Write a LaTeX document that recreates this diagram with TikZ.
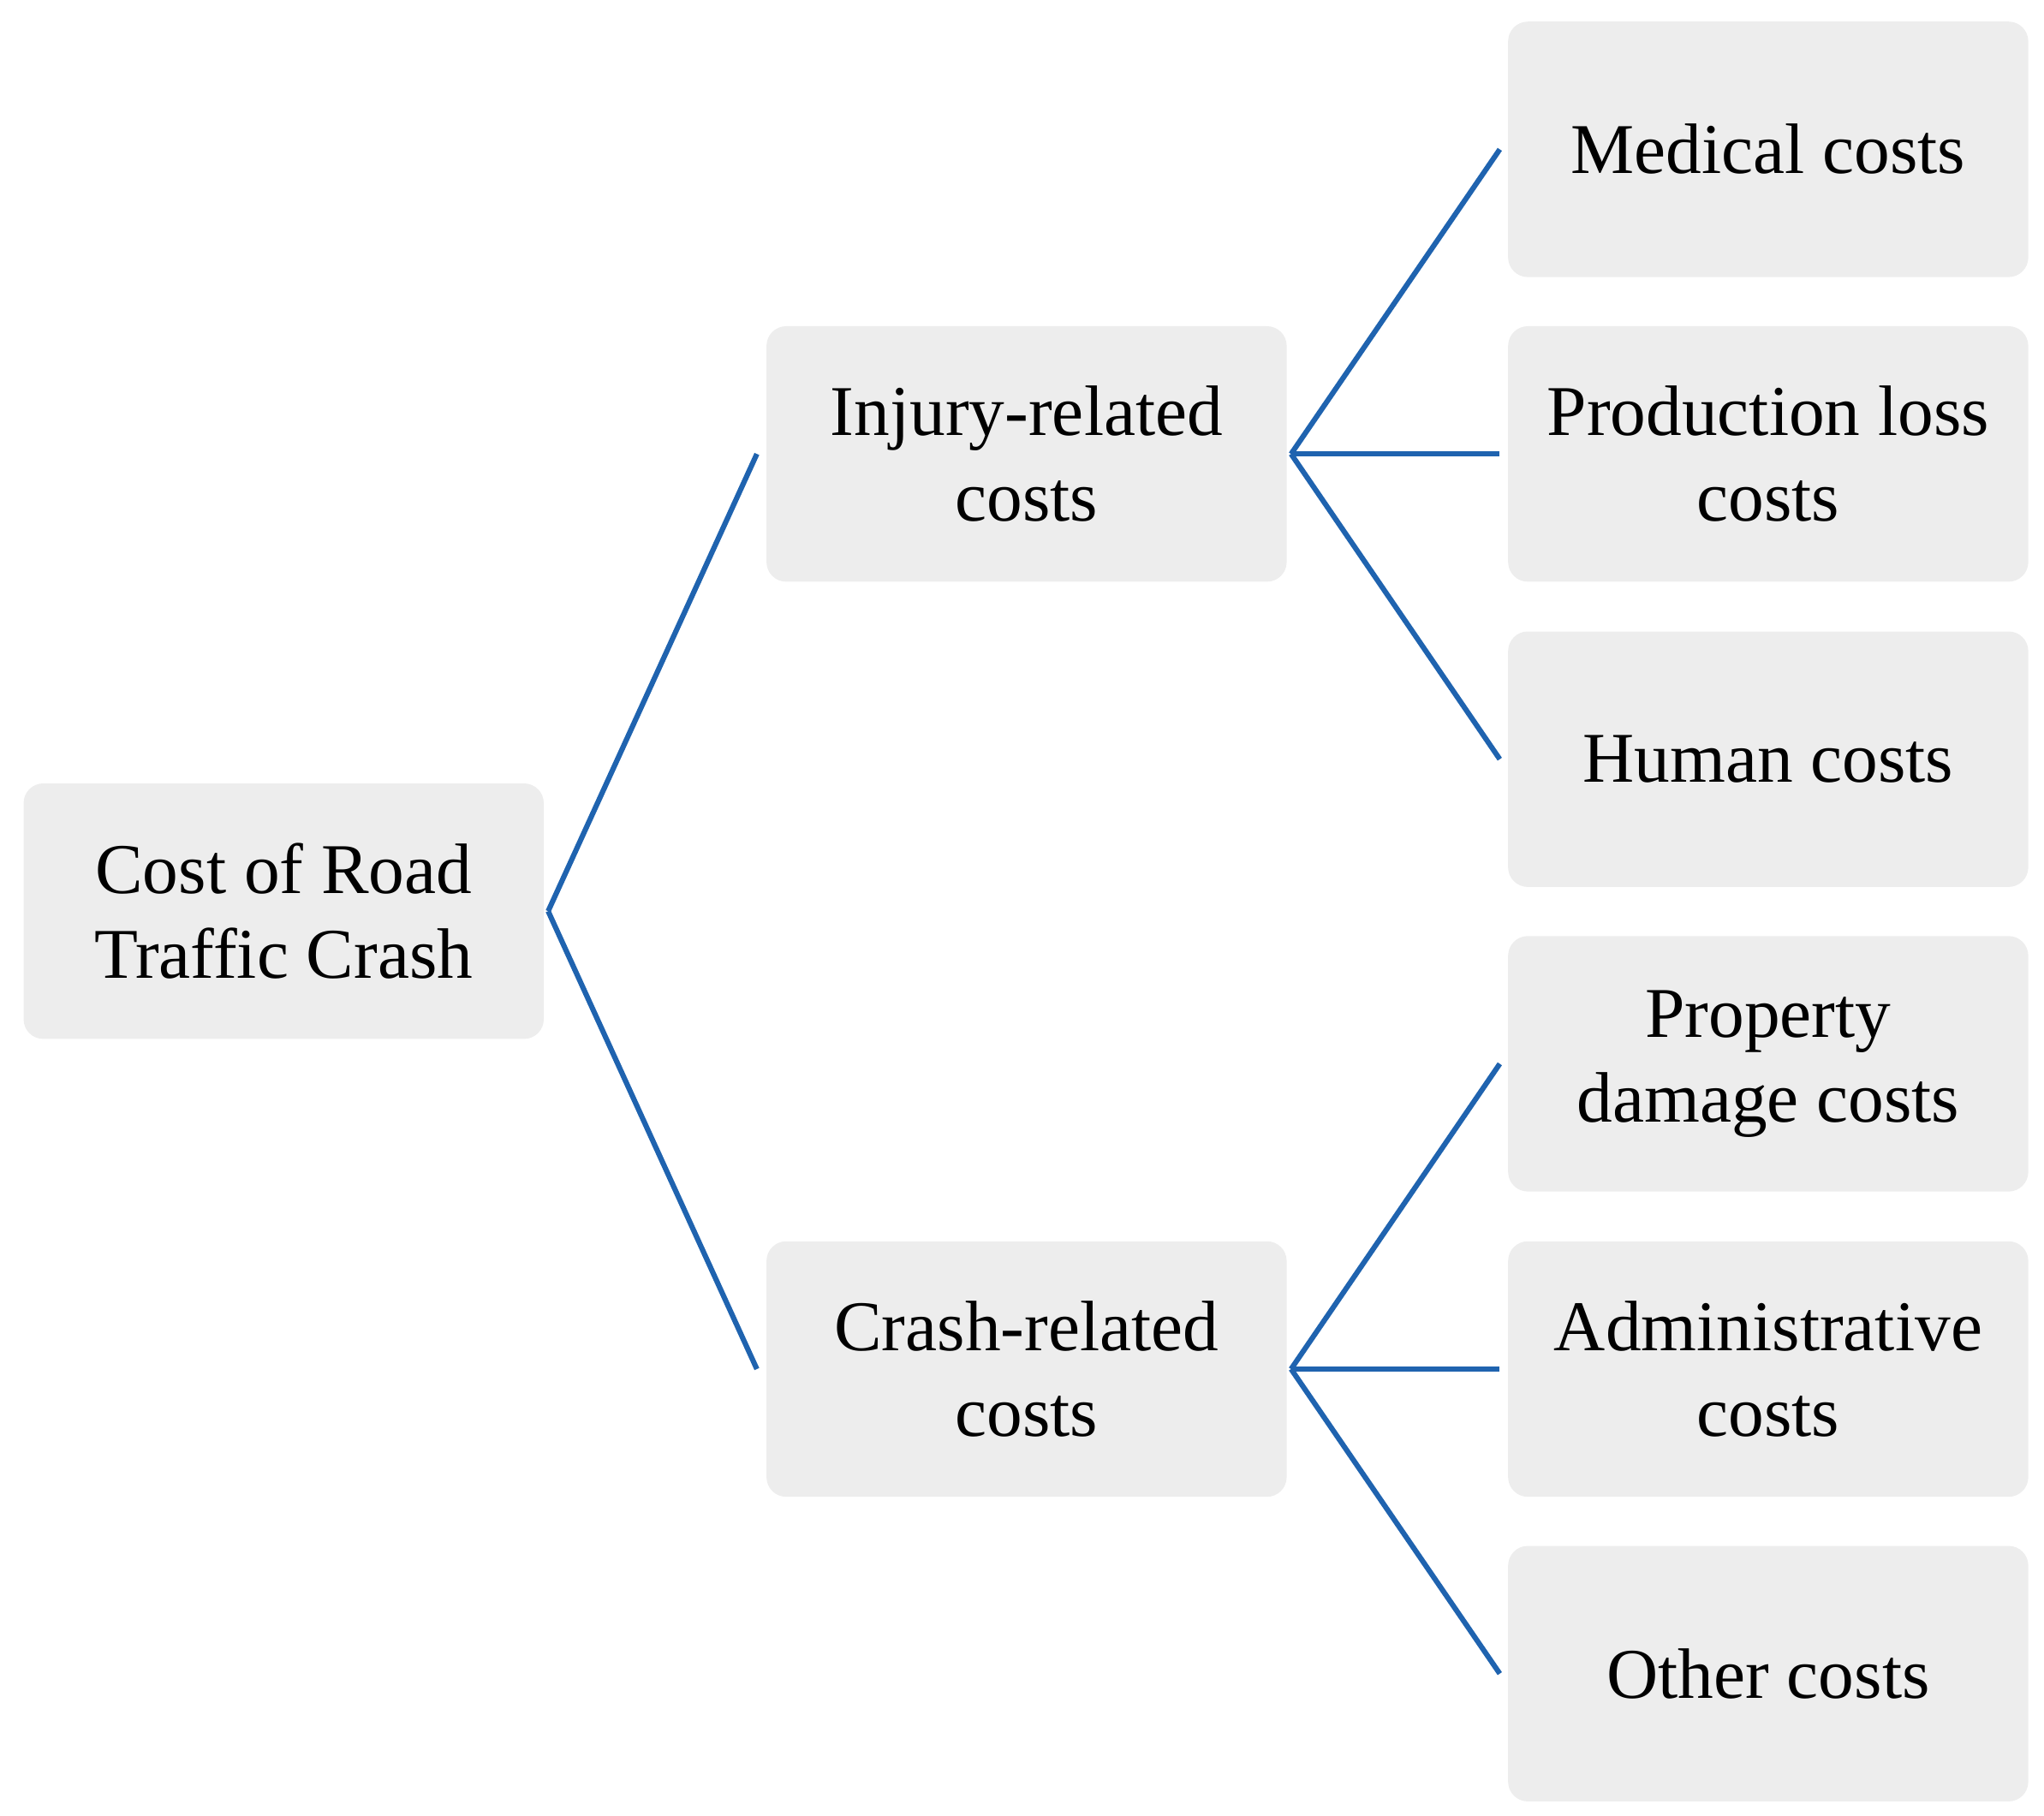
\documentclass[tikz,border=0pt]{standalone}
\usepackage{fontspec}
\setmainfont{Liberation Serif}
\begin{document}
\begin{tikzpicture}[x=0.2mm,y=-0.2mm,
  box/.style={fill=boxgray,rounded corners=3mm,minimum width=79.4mm,minimum height=39mm,align=center,font=\fontsize{31}{37}\selectfont,inner sep=0pt},
  link/.style={draw=linkblue,line width=0.8mm}]
\definecolor{boxgray}{HTML}{EDEDED}
\definecolor{linkblue}{HTML}{1F63AF}
\useasboundingbox (0,0) rectangle (1560,1386);
\node[box] (root) at (216.5,695.5) {Cost of Road\\Traffic Crash};
\node[box] (inj) at (783.5,346.5) {Injury-related\\costs};
\node[box] (cra) at (783.5,1045) {Crash-related\\costs};
\node[box] (med) at (1349.5,114) {Medical costs};
\node[box] (pro) at (1349.5,346.5) {Production loss\\costs};
\node[box] (hum) at (1349.5,579.5) {Human costs};
\node[box] (prop) at (1349.5,812) {Property\\damage costs};
\node[box] (adm) at (1349.5,1045) {Administrative\\costs};
\node[box] (oth) at (1349.5,1277.5) {Other costs};
\draw[link] ([xshift=0.6mm]root.east) -- ([xshift=-1.4mm]inj.west);
\draw[link] ([xshift=0.6mm]root.east) -- ([xshift=-1.4mm]cra.west);
\foreach \a/\b in {inj/med,inj/pro,inj/hum,cra/prop,cra/adm,cra/oth}
  \draw[link] ([xshift=0.6mm]\a.east) -- ([xshift=-1.2mm]\b.west);
\end{tikzpicture}
\end{document}
